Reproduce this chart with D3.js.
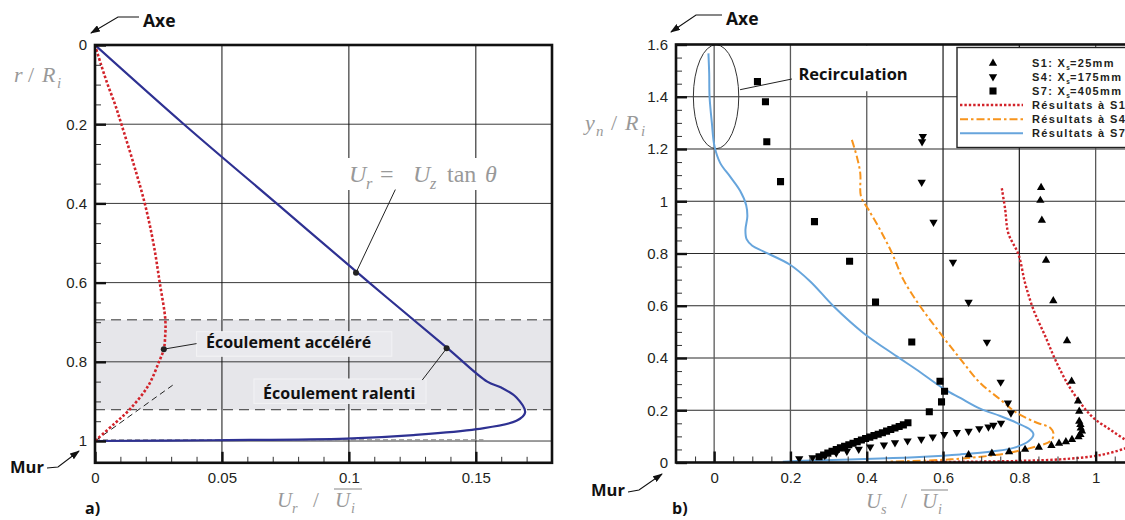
<!DOCTYPE html>
<html>
<head>
<meta charset="utf-8">
<script src="https://cdn.jsdelivr.net/npm/d3@7"></script>
<style>
  body { margin: 0; background: #fff; }
  svg { display: block; }
</style>
</head>
<body>
<svg id="fig" width="1125" height="520"></svg>
<script>
// ---------- data, panel a) ----------
const yTicksA = [0, 0.2, 0.4, 0.6, 0.8, 1];
const xTicksA = [0, 0.05, 0.1, 0.15];
const bandA = [0.694, 0.921];
// Ur = Uz tan(theta) line and profile (navy)
const tanProfile = [[0,0],[0.035,0.2],[0.0715,0.4],[0.108,0.6],[0.1389,0.766],[0.1545,0.85],[0.160,0.865],
  [0.166,0.89],[0.1694,0.928],[0.166,0.949],[0.1503,0.970],[0.1254,0.985],[0.0991,0.994],[0.0466,0.998],[0,1]];
// computed profile (red dotted)
const redProfileA = [[0,0],[0.0024,0.05],[0.005,0.1],[0.0079,0.15],[0.0104,0.2],[0.0152,0.3],[0.0196,0.4],
  [0.023,0.5],[0.0255,0.6],[0.0277,0.694],[0.0276,0.74],[0.0271,0.768],[0.0252,0.8],[0.021,0.86],
  [0.0137,0.92],[0.0075,0.957],[0,1]];
const wallTangent = [[0,1],[0.0306,0.859]];
const wallGrey = [[0.0,0.997],[0.153,0.997]];

// ---------- data, panel b) ----------
const yTicksB = [0, 0.2, 0.4, 0.6, 0.8, 1, 1.2, 1.4, 1.6];
const xTicksB = [0, 0.2, 0.4, 0.6, 0.8, 1];
const legendLabels = ["S1: X|s|=25mm", "S4: X|s|=175mm", "S7: X|s|=405mm", "Résultats à S1", "Résultats à S4", "Résultats à S7"];

const S1 = [[0.857,1.052],[0.855,1.003],[0.859,0.927],[0.870,0.774],[0.889,0.619],[0.925,0.466],[0.937,0.311],
  [0.954,0.235],[0.957,0.196],[0.957,0.158],[0.960,0.145],[0.961,0.132],[0.964,0.120],[0.960,0.107],[0.955,0.098],
  [0.938,0.088],[0.922,0.079],[0.904,0.073],[0.884,0.065],[0.851,0.058],[0.815,0.050],[0.773,0.041],[0.728,0.035],[0.667,0.029]];
const S4 = [[0.547,1.248],[0.545,1.228],[0.544,1.073],[0.575,0.920],[0.626,0.767],[0.667,0.614],[0.715,0.461],
  [0.751,0.308],[0.770,0.228],[0.778,0.190],[0.752,0.151],[0.732,0.143],[0.719,0.136],[0.695,0.130],[0.667,0.120],
  [0.636,0.115],[0.603,0.108],[0.573,0.098],[0.543,0.089],[0.507,0.083],[0.474,0.076],[0.445,0.067],[0.409,0.060],
  [0.379,0.051],[0.348,0.043],[0.320,0.037],[0.290,0.027],[0.258,0.019],[0.223,0.015]];
const S7 = [[0.1135,1.458],[0.1345,1.381],[0.138,1.228],[0.174,1.075],[0.263,0.922],[0.355,0.770],[0.423,0.614],
  [0.518,0.461],[0.592,0.311],[0.604,0.273],[0.596,0.232],[0.564,0.194],
  [0.275,0.022],[0.287,0.029],[0.298,0.036],[0.309,0.043],[0.320,0.050],[0.331,0.056],[0.342,0.062],[0.353,0.068],
  [0.364,0.074],[0.375,0.080],[0.386,0.086],[0.397,0.092],[0.408,0.097],[0.419,0.103],[0.430,0.108],[0.441,0.114],
  [0.452,0.120],[0.463,0.126],[0.474,0.132],[0.485,0.138],[0.496,0.144],[0.508,0.152]];

const simS1 = [[0.754,1.05],[0.763,0.967],[0.771,0.878],[0.798,0.795],[0.815,0.687],[0.837,0.585],[0.868,0.483],
  [0.894,0.394],[0.925,0.305],[0.960,0.228],[0.994,0.171],[1.038,0.126],[1.077,0.088],[1.100,0.070],[1.077,0.054],
  [1.038,0.037],[0.994,0.024],[0.907,0.012],[0.80,0.006],[0.67,0.003],[0.55,0.002]];
const simS4 = [[0.361,1.235],[0.374,1.171],[0.383,1.107],[0.385,1.018],[0.405,0.967],[0.435,0.891],[0.466,0.802],
  [0.496,0.700],[0.540,0.598],[0.592,0.496],[0.645,0.397],[0.697,0.305],[0.750,0.241],[0.793,0.190],[0.846,0.152],
  [0.881,0.133],[0.890,0.107],[0.881,0.081],[0.846,0.062],[0.793,0.043],[0.750,0.031],[0.62,0.012],[0.45,0.003]];
const simS7 = [[-0.015,1.566],[-0.013,1.49],[-0.012,1.40],[-0.006,1.30],[0.001,1.21],[0.016,1.146],[0.042,1.094],
  [0.068,1.040],[0.084,0.985],[0.087,0.942],[0.082,0.89],[0.085,0.855],[0.10,0.83],[0.129,0.808],[0.199,0.757],
  [0.252,0.693],[0.313,0.598],[0.391,0.496],[0.479,0.406],[0.530,0.356],[0.601,0.283],[0.645,0.247],[0.697,0.206],
  [0.750,0.178],[0.793,0.152],[0.828,0.126],[0.837,0.107],[0.824,0.081],[0.785,0.056],[0.732,0.043],[0.645,0.031],
  [0.55,0.022],[0.435,0.015],[0.26,0.008],[0.18,0.003]];

// ---------- styles ----------
const NAVY = "#2e3192", RED = "#d2232a", ORANGE = "#f7941d", SKY = "#67a5dc";
const tickFont = "'Liberation Sans', Arial, sans-serif";
const boldFont = "'Open Sans', sans-serif";
const mathFont = "'Liberation Serif', 'DejaVu Serif', serif";

const svg = d3.select("#fig");
const defs = svg.append("defs");
defs.append("marker").attr("id", "arr").attr("viewBox", "0 0 10 10")
  .attr("refX", 9).attr("refY", 5).attr("markerWidth", 10).attr("markerHeight", 7)
  .attr("markerUnits", "userSpaceOnUse").attr("orient", "auto").attr("preserveAspectRatio", "none")
  .append("path").attr("d", "M0,0L10,5L0,10z").attr("fill", "#111");

const lineGen = (x, y) => d3.line().x(d => x(d[0])).y(d => y(d[1])).curve(d3.curveCatmullRom.alpha(0.5));

// ================= panel a) =================
const xA = d3.scaleLinear().domain([0, 0.18]).range([95, 552]);
const yA = d3.scaleLinear().domain([0, 1.055]).range([45, 462.8]);
const gA = svg.append("g");
defs.append("clipPath").attr("id", "clipA").append("rect")
  .attr("x", xA(0)).attr("y", yA(0)).attr("width", xA(0.18) - xA(0)).attr("height", yA(1.055) - yA(0));

gA.append("rect").attr("x", xA(0)).attr("width", xA(0.18) - xA(0))
  .attr("y", yA(bandA[0])).attr("height", yA(bandA[1]) - yA(bandA[0])).attr("fill", "#e6e6ea");

gA.selectAll(".hgrid").data(yTicksA.slice(1)).join("line")
  .attr("x1", xA(0)).attr("x2", xA(0.18)).attr("y1", d => yA(d)).attr("y2", d => yA(d))
  .attr("stroke", "#3a3a3a").attr("stroke-width", 1);
gA.selectAll(".vgrid").data(xTicksA.slice(1)).join("line")
  .attr("y1", yA(0)).attr("y2", yA(1.055)).attr("x1", d => xA(d)).attr("x2", d => xA(d))
  .attr("stroke", "#111").attr("stroke-width", 1);
gA.selectAll(".bandEdge").data(bandA).join("line")
  .attr("x1", xA(0)).attr("x2", xA(0.18)).attr("y1", d => yA(d)).attr("y2", d => yA(d))
  .attr("stroke", "#333").attr("stroke-width", 1).attr("stroke-dasharray", "10,6");

// annotation boxes
const notesA = [
  { text: "Écoulement accéléré", box: [0.0400, 0.1169, 0.724, 0.786], tx: 0.0437, ty: 0.7645, dot: [0.0271, 0.768], end: [0.0400, 0.754] },
  { text: "Écoulement ralenti", box: [0.0626, 0.1304, 0.8434, 0.905], tx: 0.0662, ty: 0.8935, dot: [0.1385, 0.766], end: [0.1289, 0.846] }
];
notesA.forEach(n => {
  gA.append("rect").attr("x", xA(n.box[0])).attr("width", xA(n.box[1]) - xA(n.box[0]))
    .attr("y", yA(n.box[2])).attr("height", yA(n.box[3]) - yA(n.box[2]))
    .attr("fill", "#e9e9ed").attr("stroke", "#f3f3f5").attr("stroke-width", 1);
});

// Ur label background
gA.append("rect").attr("x", 346).attr("y", 158).attr("width", 160).attr("height", 32).attr("fill", "#fff");

const clA = gA.append("g").attr("clip-path", "url(#clipA)");
clA.append("path").datum(wallGrey).attr("d", d3.line().x(d => xA(d[0])).y(d => yA(d[1])))
  .attr("fill", "none").attr("stroke", "#8a8a8a").attr("stroke-width", 1.4).attr("stroke-dasharray", "5,3");
clA.append("path").datum(wallTangent).attr("d", d3.line().x(d => xA(d[0])).y(d => yA(d[1])))
  .attr("fill", "none").attr("stroke", "#222").attr("stroke-width", 1).attr("stroke-dasharray", "6,4");
clA.append("path").datum(tanProfile).attr("d", lineGen(xA, yA))
  .attr("fill", "none").attr("stroke", NAVY).attr("stroke-width", 2.2);
clA.append("path").datum(redProfileA).attr("d", lineGen(xA, yA))
  .attr("fill", "none").attr("stroke", RED).attr("stroke-width", 2.6).attr("stroke-dasharray", "2.6,2");

// annotations with leaders
notesA.forEach(n => {
  gA.append("line").attr("x1", xA(n.dot[0])).attr("y1", yA(n.dot[1])).attr("x2", xA(n.end[0])).attr("y2", yA(n.end[1]))
    .attr("stroke", "#222").attr("stroke-width", 1);
  gA.append("circle").attr("cx", xA(n.dot[0])).attr("cy", yA(n.dot[1])).attr("r", 3).attr("fill", "#222");
  gA.append("text").attr("x", xA(n.tx)).attr("y", yA(n.ty)).text(n.text)
    .attr("font-family", boldFont).attr("font-weight", 700).attr("font-size", 16).attr("fill", "#111");
});
const tanDot = [0.1028, 0.575], tanEnd = [0.1183, 0.365];
gA.append("line").attr("x1", xA(tanDot[0])).attr("y1", yA(tanDot[1])).attr("x2", xA(tanEnd[0])).attr("y2", yA(tanEnd[1]))
  .attr("stroke", "#222").attr("stroke-width", 1);
gA.append("circle").attr("cx", xA(tanDot[0])).attr("cy", yA(tanDot[1])).attr("r", 3).attr("fill", "#222");

// ticks
const yMinorA = d3.range(0.05, 1.05, 0.05).filter(v => Math.abs(v * 5 - Math.round(v * 5)) > 1e-6);
const xMinorA = d3.range(0.01, 0.18, 0.01).filter(v => Math.abs(v * 20 - Math.round(v * 20)) > 1e-6);
const axA_y = gA.append("g").attr("transform", `translate(${xA(0)},0)`)
  .call(d3.axisLeft(yA).tickValues(yTicksA).tickSize(-11).tickPadding(8).tickFormat(d => d));
const axA_yMinor = gA.append("g").attr("transform", `translate(${xA(0)},0)`)
  .call(d3.axisLeft(yA).tickValues(yMinorA).tickSize(-6).tickFormat(""));
const axA_x = gA.append("g").attr("transform", `translate(0,${yA(1.055)})`)
  .call(d3.axisBottom(xA).tickValues(xTicksA).tickSize(-11).tickPadding(10).tickFormat(d => d));
const axA_xMinor = gA.append("g").attr("transform", `translate(0,${yA(1.055)})`)
  .call(d3.axisBottom(xA).tickValues(xMinorA).tickSize(-6).tickFormat(""));
[axA_y, axA_x].forEach(g => g.selectAll(".tick line").attr("stroke", "#111").attr("stroke-width", 2.4));
[axA_yMinor, axA_xMinor].forEach(g => g.selectAll(".tick line").attr("stroke", "#333").attr("stroke-width", 1));
[axA_y, axA_x, axA_yMinor, axA_xMinor].forEach(g => {
  g.select(".domain").remove();
  g.selectAll("text").attr("font-family", tickFont).attr("font-size", 15).attr("fill", "#231f20");
});
gA.append("rect").attr("x", xA(0)).attr("y", yA(0)).attr("width", xA(0.18) - xA(0)).attr("height", yA(1.055) - yA(0))
  .attr("fill", "none").attr("stroke", "#111").attr("stroke-width", 2.6);

// ================= panel b) =================
const xB = d3.scaleLinear().domain([-0.1, 1.1]).range([676, 1133.8]);
const yB = d3.scaleLinear().domain([0, 1.6]).range([462.5, 44.5]);
const gB = svg.append("g");
defs.append("clipPath").attr("id", "clipB").append("rect")
  .attr("x", xB(-0.1)).attr("y", yB(1.6)).attr("width", xB(1.1) - xB(-0.1)).attr("height", yB(0) - yB(1.6));

gB.selectAll(".hgrid").data(yTicksB.slice(1, -1)).join("line")
  .attr("x1", xB(-0.1)).attr("x2", xB(1.1)).attr("y1", d => yB(d)).attr("y2", d => yB(d))
  .attr("stroke", "#2a2a2a").attr("stroke-width", 1.1);
gB.selectAll(".vgrid").data(xTicksB).join("line")
  .attr("y1", yB(0)).attr("y2", yB(1.6)).attr("x1", d => xB(d)).attr("x2", d => xB(d))
  .attr("stroke", d => (d === 0.6 || d === 0.8) ? "#2a2a2a" : "#5a5a5a").attr("stroke-width", 1.3);

// Recirculation ellipse and label
const recirc = { cx: 0.005, cy: 1.4, rx: 0.0595, ry: 0.199 };
gB.append("ellipse").attr("cx", xB(recirc.cx)).attr("cy", yB(recirc.cy))
  .attr("rx", xB(recirc.rx) - xB(0)).attr("ry", yB(0) - yB(recirc.ry))
  .attr("fill", "none").attr("stroke", "#333").attr("stroke-width", 1);
gB.append("rect").attr("x", xB(0.212)).attr("y", yB(1.6) + 1).attr("width", xB(0.52) - xB(0.212)).attr("height", yB(1.425) - yB(1.6))
  .attr("fill", "#fff");
gB.append("line").attr("x1", xB(0.068)).attr("y1", yB(1.427)).attr("x2", xB(0.204)).attr("y2", yB(1.468))
  .attr("stroke", "#222").attr("stroke-width", 1);
gB.append("text").attr("x", xB(0.221)).attr("y", yB(1.466)).text("Recirculation")
  .attr("font-family", boldFont).attr("font-weight", 700).attr("font-size", 16.5).attr("fill", "#111");

const clB = gB.append("g").attr("clip-path", "url(#clipB)");
clB.append("path").datum(simS7).attr("d", lineGen(xB, yB))
  .attr("fill", "none").attr("stroke", SKY).attr("stroke-width", 2);
clB.append("path").datum(simS4).attr("d", lineGen(xB, yB))
  .attr("fill", "none").attr("stroke", ORANGE).attr("stroke-width", 2).attr("stroke-dasharray", "8,3,2.5,3");
clB.append("path").datum(simS1).attr("d", lineGen(xB, yB))
  .attr("fill", "none").attr("stroke", RED).attr("stroke-width", 2.4).attr("stroke-dasharray", "2.4,2");

const triUp = d3.symbol().type(d3.symbolTriangle).size(30)();
const sq = d3.symbol().type(d3.symbolSquare).size(50)();
clB.selectAll(".s7").data(S7).join("path").attr("d", sq)
  .attr("transform", d => `translate(${xB(d[0])},${yB(d[1])})`).attr("fill", "#000");
clB.selectAll(".s4").data(S4).join("path").attr("d", triUp)
  .attr("transform", d => `translate(${xB(d[0])},${yB(d[1])}) rotate(180)`).attr("fill", "#000");
clB.selectAll(".s1").data(S1).join("path").attr("d", triUp)
  .attr("transform", d => `translate(${xB(d[0])},${yB(d[1])})`).attr("fill", "#000");

// legend
const lg = gB.append("g").attr("transform", "translate(957,47.5)");
lg.append("rect").attr("width", 200).attr("height", 100).attr("fill", "#fff").attr("stroke", "#222").attr("stroke-width", 1.4);
const rowY = [15.8, 29.2, 43.5, 57.5, 71.8, 85.8];
const legendMarks = [
  { kind: "sym", d: triUp, rot: 0 }, { kind: "sym", d: triUp, rot: 180 }, { kind: "sym", d: sq, rot: 0 },
  { kind: "line", color: RED, dash: "2.4,2", w: 2.4 }, { kind: "line", color: ORANGE, dash: "8,3,2.5,3", w: 2 },
  { kind: "line", color: SKY, dash: null, w: 2 }
];
legendMarks.forEach((m, i) => {
  if (m.kind === "sym") {
    lg.append("path").attr("d", m.d).attr("fill", "#000")
      .attr("transform", `translate(36,${rowY[i]}) rotate(${m.rot})`);
  } else {
    lg.append("line").attr("x1", 3).attr("x2", 66).attr("y1", rowY[i]).attr("y2", rowY[i])
      .attr("stroke", m.color).attr("stroke-width", m.w).attr("stroke-dasharray", m.dash);
  }
  const parts = legendLabels[i].split("|");
  const t = lg.append("text").attr("x", 75).attr("y", rowY[i] + 4)
    .attr("font-family", tickFont).attr("font-weight", 700).attr("font-size", 11)
    .attr("letter-spacing", 1.35).attr("fill", "#231f20");
  t.append("tspan").text(parts[0]);
  if (parts.length > 1) {
    t.append("tspan").attr("font-size", 6.5).attr("dy", 3).attr("letter-spacing", 0).text(parts[1]);
    t.append("tspan").attr("dy", -3).text(parts[2]);
  }
});

// ticks
const yMinorB = d3.range(0.05, 1.6, 0.05).filter(v => Math.abs(v * 5 - Math.round(v * 5)) > 1e-6);
const xMinorB = d3.range(-0.05, 1.1, 0.05).filter(v => Math.abs(v * 5 - Math.round(v * 5)) > 1e-6);
const axB_y = gB.append("g").attr("transform", `translate(${xB(-0.1)},0)`)
  .call(d3.axisLeft(yB).tickValues(yTicksB).tickSize(-11).tickPadding(8).tickFormat(d => d));
const axB_yMinor = gB.append("g").attr("transform", `translate(${xB(-0.1)},0)`)
  .call(d3.axisLeft(yB).tickValues(yMinorB).tickSize(-6).tickFormat(""));
const axB_x = gB.append("g").attr("transform", `translate(0,${yB(0)})`)
  .call(d3.axisBottom(xB).tickValues(xTicksB).tickSize(-11).tickPadding(10).tickFormat(d => d));
const axB_xMinor = gB.append("g").attr("transform", `translate(0,${yB(0)})`)
  .call(d3.axisBottom(xB).tickValues(xMinorB).tickSize(-6).tickFormat(""));
[axB_y, axB_x].forEach(g => g.selectAll(".tick line").attr("stroke", "#111").attr("stroke-width", 2.4));
[axB_yMinor, axB_xMinor].forEach(g => g.selectAll(".tick line").attr("stroke", "#333").attr("stroke-width", 1));
[axB_y, axB_x, axB_yMinor, axB_xMinor].forEach(g => {
  g.select(".domain").remove();
  g.selectAll("text").attr("font-family", tickFont).attr("font-size", 15).attr("fill", "#231f20");
});
gB.append("rect").attr("x", xB(-0.1)).attr("y", yB(1.6)).attr("width", xB(1.1) - xB(-0.1)).attr("height", yB(0) - yB(1.6))
  .attr("fill", "none").attr("stroke", "#111").attr("stroke-width", 2.6);

// ================= math labels =================
function mathLabel(parts, y, size) {
  const t = svg.append("text").attr("y", y).attr("font-family", mathFont).attr("font-size", size).attr("fill", "#999");
  parts.forEach(p => {
    t.append("tspan").attr("x", p.x).attr("y", y + (p.sub ? size * 0.28 : 0))
      .attr("font-size", p.sub ? size * 0.68 : size).attr("font-style", p.it ? "italic" : "normal").text(p.s);
  });
  return t;
}
mathLabel([{ x: 14, s: "r", it: 1 }, { x: 28, s: "/" }, { x: 42, s: "R", it: 1 }, { x: 57, s: "i", it: 1, sub: 1 }], 82, 22);
mathLabel([{ x: 585, s: "y", it: 1 }, { x: 596, s: "n", it: 1, sub: 1 }, { x: 611, s: "/" }, { x: 625, s: "R", it: 1 }, { x: 641, s: "i", it: 1, sub: 1 }], 130, 22);
mathLabel([{ x: 277, s: "U", it: 1 }, { x: 292, s: "r", it: 1, sub: 1 }, { x: 313, s: "/" }, { x: 335, s: "U", it: 1 }, { x: 351, s: "i", it: 1, sub: 1 }], 507, 21);
svg.append("line").attr("x1", 334).attr("x2", 362).attr("y1", 489).attr("y2", 489).attr("stroke", "#999").attr("stroke-width", 1.2);
mathLabel([{ x: 866, s: "U", it: 1 }, { x: 881, s: "s", it: 1, sub: 1 }, { x: 901, s: "/" }, { x: 922, s: "U", it: 1 }, { x: 938, s: "i", it: 1, sub: 1 }], 508, 21);
svg.append("line").attr("x1", 921).attr("x2", 948).attr("y1", 490).attr("y2", 490).attr("stroke", "#999").attr("stroke-width", 1.2);
mathLabel([{ x: 349, s: "U", it: 1 }, { x: 366, s: "r", it: 1, sub: 1 }, { x: 380, s: "=" }, { x: 413, s: "U", it: 1 },
  { x: 430, s: "z", it: 1, sub: 1 }, { x: 447, s: "tan" }, { x: 485, s: "θ", it: 1 }], 182, 24);

// ================= callouts Axe / Mur, panel letters =================
function callout(label, tx, ty, pts, size) {
  svg.append("path").attr("d", d3.line()(pts)).attr("fill", "none").attr("stroke", "#111").attr("stroke-width", 1.1)
    .attr("marker-end", "url(#arr)");
  svg.append("text").attr("x", tx).attr("y", ty).text(label)
    .attr("font-family", boldFont).attr("font-weight", 700).attr("font-size", size).attr("fill", "#111");
}
callout("Axe", 143, 27, [[139, 17], [118, 17], [91, 33]], 17.5);
callout("Axe", 726, 25, [[722, 15], [696, 15], [671, 32]], 17.5);
callout("Mur", 10, 473, [[47, 468], [58, 467], [79, 451]], 16.5);
callout("Mur", 591, 496, [[628, 492], [639, 490], [662, 474]], 16.5);
svg.append("text").attr("x", 85).attr("y", 514).text("a)")
  .attr("font-family", boldFont).attr("font-weight", 700).attr("font-size", 16).attr("fill", "#111");
svg.append("text").attr("x", 672).attr("y", 514).text("b)")
  .attr("font-family", boldFont).attr("font-weight", 700).attr("font-size", 16).attr("fill", "#111");
</script>
</body>
</html>
